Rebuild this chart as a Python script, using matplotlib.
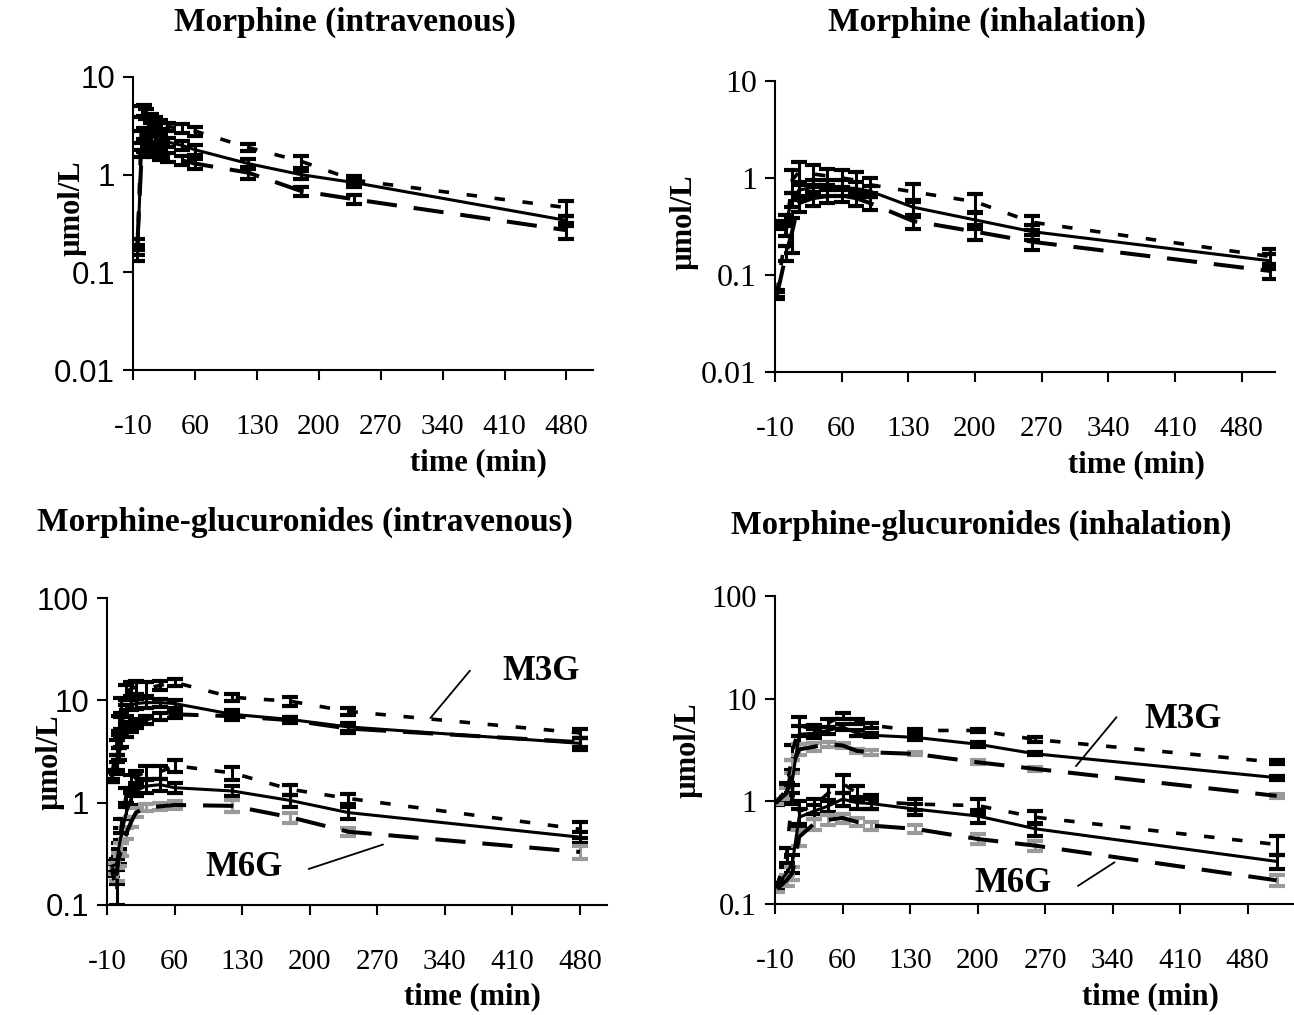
import matplotlib
matplotlib.use("Agg")
import matplotlib.pyplot as plt
from matplotlib.ticker import NullLocator

# ---------------- data ----------------
t_iv = [-5, 0, 2, 5, 10, 15, 20, 30, 45, 60, 120, 180, 240, 480]
t_inh = [-8, 2, 8, 15, 30, 45, 60, 75, 90, 135, 200, 260, 510]

x_ticks = [-10, 60, 130, 200, 270, 340, 410, 480]
x_ticklabels = ["-10", "60", "130", "200", "270", "340", "410", "480"]

# Morphine, intravenous (umol/L)
mor_iv_dot = [0.17, 4.5, 4.6, 4.2, 3.8, 3.5, 3.3, 3.1, 3.0, 2.8, 1.9, 1.37, 0.88, 0.46]
mor_iv_dot_err = [0.02, 0.6, 0.6, 0.5, 0.4, 0.4, 0.35, 0.3, 0.3, 0.3, 0.15, 0.2, 0.1, 0.08]
mor_iv_sol = [0.15, 2.3, 2.6, 2.5, 2.45, 2.4, 2.3, 2.15, 2.0, 1.8, 1.3, 1.0, 0.83, 0.34]
mor_iv_sol_err = [0.02, 0.5, 0.4, 0.35, 0.3, 0.3, 0.25, 0.25, 0.2, 0.2, 0.15, 0.1, 0.08, 0.04]
mor_iv_das = [0.2, 1.8, 2.0, 1.9, 1.8, 1.7, 1.6, 1.5, 1.4, 1.3, 1.05, 0.68, 0.56, 0.27]
mor_iv_das_err = [0.02, 0.3, 0.3, 0.25, 0.2, 0.2, 0.2, 0.15, 0.15, 0.15, 0.15, 0.07, 0.06, 0.05]

# Morphine, inhalation
mor_inh_dot = [0.065, 0.30, 0.95, 1.15, 1.1, 1.05, 1.0, 0.95, 0.85, 0.72, 0.57, 0.35, 0.155]
mor_inh_dot_err = [0.005, 0.05, 0.25, 0.3, 0.25, 0.2, 0.2, 0.2, 0.15, 0.15, 0.12, 0.06, 0.03]
mor_inh_sol = [0.33, 0.37, 0.6, 0.75, 0.8, 0.8, 0.8, 0.78, 0.73, 0.5, 0.37, 0.28, 0.14]
mor_inh_sol_err = [0.03, 0.05, 0.1, 0.15, 0.15, 0.15, 0.15, 0.12, 0.1, 0.1, 0.07, 0.05, 0.025]
mor_inh_das = [0.062, 0.17, 0.28, 0.55, 0.62, 0.65, 0.66, 0.62, 0.55, 0.36, 0.28, 0.22, 0.11]
mor_inh_das_err = [0.005, 0.03, 0.11, 0.1, 0.1, 0.1, 0.1, 0.1, 0.08, 0.06, 0.05, 0.04, 0.02]

# Glucuronides, intravenous
m3g_iv_dot = [1.9, 3.5, 6, 9, 12, 13, 13.5, 13, 14, 15, 10.7, 9.8, 7.8, 4.8]
m3g_iv_dot_err = [0.2, 0.6, 1.0, 1.5, 2.0, 2.0, 2.0, 2.0, 1.5, 1.2, 0.8, 1.0, 0.6, 0.5]
m3g_iv_sol = [1.8, 2.5, 4, 6, 8, 9, 9.3, 9.5, 9.5, 9.3, 7.3, 6.5, 5.5, 3.8]
m3g_iv_sol_err = [0.2, 0.4, 0.6, 0.8, 1.0, 1.0, 1.0, 1.0, 0.8, 0.8, 0.8, 0.4, 0.5, 0.5]
m3g_iv_das = [1.8, 2.2, 3, 4, 5, 5.5, 6, 6.5, 7, 7.3, 7, 6.4, 5.3, 3.9]
m3g_iv_das_err = [0.2, 0.3, 0.4, 0.5, 0.6, 0.6, 0.6, 0.6, 0.6, 0.6, 0.6, 0.4, 0.5, 0.4]
m6g_iv_dot = [0.22, 0.13, 0.3, 0.6, 1.2, 1.6, 1.8, 2.0, 2.0, 2.3, 1.95, 1.35, 1.1, 0.55]
m6g_iv_dot_err = [0.03, 0.03, 0.05, 0.1, 0.2, 0.25, 0.25, 0.3, 0.3, 0.3, 0.3, 0.15, 0.12, 0.1]
m6g_iv_sol = [0.24, 0.25, 0.35, 0.5, 0.8, 1.1, 1.3, 1.45, 1.5, 1.4, 1.3, 1.05, 0.8, 0.46]
m6g_iv_sol_err = [0.03, 0.03, 0.05, 0.07, 0.1, 0.15, 0.15, 0.2, 0.2, 0.15, 0.15, 0.15, 0.1, 0.06]
m6g_iv_das = [0.23, 0.2, 0.28, 0.35, 0.5, 0.65, 0.8, 0.9, 0.92, 0.95, 0.93, 0.72, 0.52, 0.33]
m6g_iv_das_err = [0.03, 0.03, 0.04, 0.05, 0.06, 0.07, 0.08, 0.08, 0.08, 0.08, 0.12, 0.08, 0.05, 0.05]

# Glucuronides, inhalation
m3g_inh_dot = [1.0, 1.3, 3.0, 5.5, 5.0, 5.8, 6.8, 6.0, 5.5, 4.9, 4.9, 4.0, 2.4]
m3g_inh_dot_err = [0.05, 0.2, 0.5, 1.2, 0.6, 0.5, 0.4, 0.3, 0.3, 0.2, 0.2, 0.2, 0.1]
m3g_inh_sol = [0.97, 1.2, 1.6, 4.5, 4.6, 4.9, 5.3, 4.6, 4.4, 4.2, 3.6, 2.9, 1.7]
m3g_inh_sol_err = [0.05, 0.2, 0.4, 0.9, 0.5, 0.4, 0.4, 0.3, 0.2, 0.2, 0.2, 0.1, 0.08]
m3g_inh_das = [1.0, 1.2, 2.2, 3.2, 3.4, 3.6, 3.5, 3.1, 3.0, 2.9, 2.4, 2.07, 1.13]
m3g_inh_das_err = [0.05, 0.15, 0.3, 0.4, 0.3, 0.2, 0.2, 0.15, 0.15, 0.1, 0.1, 0.08, 0.05]
m6g_inh_dot = [0.15, 0.3, 1.2, 0.8, 0.9, 1.2, 1.5, 1.2, 1.0, 0.94, 0.91, 0.70, 0.38]
m6g_inh_dot_err = [0.01, 0.05, 0.25, 0.2, 0.15, 0.2, 0.3, 0.2, 0.15, 0.12, 0.15, 0.1, 0.08]
m6g_inh_sol = [0.15, 0.2, 0.25, 0.7, 0.8, 0.9, 1.05, 0.97, 0.95, 0.84, 0.72, 0.54, 0.26]
m6g_inh_sol_err = [0.01, 0.03, 0.05, 0.15, 0.12, 0.12, 0.15, 0.12, 0.1, 0.1, 0.1, 0.08, 0.04]
m6g_inh_das = [0.14, 0.17, 0.2, 0.45, 0.6, 0.66, 0.69, 0.63, 0.58, 0.54, 0.43, 0.37, 0.17]
m6g_inh_das_err = [0.01, 0.02, 0.03, 0.08, 0.08, 0.07, 0.07, 0.06, 0.05, 0.05, 0.05, 0.04, 0.02]

titles = ["Morphine (intravenous)", "Morphine (inhalation)",
          "Morphine-glucuronides (intravenous)", "Morphine-glucuronides (inhalation)"]

# ---------------- drawing ----------------
W, H = 1294, 1015
fig = plt.figure(figsize=(W / 100, H / 100), dpi=100)
SERIF = ["Liberation Serif", "DejaVu Serif"]
SANS = ["Liberation Sans", "DejaVu Sans"]
GRAY = "#9a9a9a"

def ax_px(left, top, right, bottom):
    return fig.add_axes([left / W, 1 - bottom / H, (right - left) / W, (bottom - top) / H])

def style(ax, xlim, ylim, yticks, ylabels, yfamily, ysize):
    ax.set_yscale("log")
    ax.set_ylim(ylim)
    ax.set_xlim(xlim)
    ax.set_yticks(yticks)
    ax.set_yticklabels(ylabels, family=yfamily, size=ysize)
    ax.yaxis.set_minor_locator(NullLocator())
    ax.set_xticks(x_ticks)
    ax.set_xticklabels(x_ticklabels, family=SERIF, size=21)
    for s in ("top", "right"):
        ax.spines[s].set_visible(False)
    for s in ("left", "bottom"):
        ax.spines[s].set_linewidth(1.5)
    ax.tick_params(axis="x", direction="out", length=7, width=1.5, pad=25)
    ax.tick_params(axis="y", direction="out", length=7, width=1.5, pad=6)
    ax.patch.set_alpha(0)

DOT = dict(color="black", lw=2.6, linestyle=(0, (2.9, 4.9)), dash_capstyle="butt")
SOL = dict(color="black", lw=2.2, linestyle="-")
DAS = dict(color="black", lw=2.9, linestyle=(0, (7.5, 4.2)), dash_capstyle="butt")

def series(ax, t, v, e, style_kw, ecolor="black"):
    ax.errorbar(t, v, yerr=e, fmt="none", ecolor=ecolor, elinewidth=2.2,
                capsize=5.5, capthick=3, zorder=2)
    ax.plot(t, v, zorder=3, **style_kw)

ax1 = ax_px(133, 77, 593, 370)
ax2 = ax_px(775, 81, 1275, 372)
ax3 = ax_px(107, 598, 607, 905)
ax4 = ax_px(775, 596, 1294, 904)

style(ax1, (-10, 510), (0.01, 10), [0.01, 0.1, 1, 10], ["0.01", "0.1", "1", "10"], SANS, 22.5)
style(ax2, (-10, 515), (0.01, 10), [0.01, 0.1, 1, 10], ["0.01", "0.1", "1", "10"], SERIF, 23)
style(ax3, (-10, 508), (0.1, 100), [0.1, 1, 10, 100], ["0.1", "1", "10", "100"], SANS, 22.5)
style(ax4, (-10, 528), (0.1, 100), [0.1, 1, 10, 100], ["0.1", "1", "10", "100"], SERIF, 22)

series(ax1, t_iv, mor_iv_dot, mor_iv_dot_err, DOT)
series(ax1, t_iv, mor_iv_sol, mor_iv_sol_err, SOL)
series(ax1, t_iv, mor_iv_das, mor_iv_das_err, DAS)

series(ax2, t_inh, mor_inh_dot, mor_inh_dot_err, DOT)
series(ax2, t_inh, mor_inh_sol, mor_inh_sol_err, SOL)
series(ax2, t_inh, mor_inh_das, mor_inh_das_err, DAS)

series(ax3, t_iv, m3g_iv_dot, m3g_iv_dot_err, DOT)
series(ax3, t_iv, m3g_iv_sol, m3g_iv_sol_err, SOL)
series(ax3, t_iv, m3g_iv_das, m3g_iv_das_err, DAS)
series(ax3, t_iv, m6g_iv_dot, m6g_iv_dot_err, DOT)
series(ax3, t_iv, m6g_iv_sol, m6g_iv_sol_err, SOL)
series(ax3, t_iv, m6g_iv_das, m6g_iv_das_err, DAS, ecolor=GRAY)

series(ax4, t_inh, m3g_inh_dot, m3g_inh_dot_err, DOT)
series(ax4, t_inh, m3g_inh_sol, m3g_inh_sol_err, SOL)
series(ax4, t_inh, m3g_inh_das, m3g_inh_das_err, DAS, ecolor=GRAY)
series(ax4, t_inh, m6g_inh_dot, m6g_inh_dot_err, DOT)
series(ax4, t_inh, m6g_inh_sol, m6g_inh_sol_err, SOL)
series(ax4, t_inh, m6g_inh_das, m6g_inh_das_err, DAS, ecolor=GRAY)

# labels for metabolite groups (text position, leader line start, leader line end)
notes = [
    (ax3, "M3G", (440, 19), (325, 6.7), (366, 19.5)),
    (ax3, "M6G", (132, 0.23), (199, 0.225), (276, 0.39)),
    (ax4, "M3G", (413, 6.3), (302, 2.2), (344, 6.6)),
    (ax4, "M6G", (237, 0.157), (304, 0.15), (342, 0.255)),
]
for ax, label, tpos, p0, p1 in notes:
    ax.text(tpos[0], tpos[1], label, family=SERIF, weight="bold", size=25,
            ha="center", va="center")
    ax.annotate("", xy=p1, xytext=p0,
                arrowprops=dict(arrowstyle="-", color="black", lw=1.3,
                                shrinkA=0, shrinkB=0))

def ftext(x, y, s, **kw):
    fig.text(x / W, 1 - y / H, s, ha="center", va="center", family=SERIF,
             weight="bold", **kw)

ftext(345, 22, titles[0], size=24)
ftext(987, 22, titles[1], size=24)
ftext(305, 522, titles[2], size=24)
ftext(981, 525, titles[3], size=23.5)

for (x, y) in [(478, 463), (1136, 465), (472, 997), (1150, 997)]:
    ftext(x, y, "time (min)", size=22)
for (x, y) in [(72, 208), (684, 222), (50, 762), (688, 750)]:
    ftext(x, y, "\u00b5mol/L", size=22, rotation=90)

fig.savefig("out.png", dpi=100, facecolor="white")
